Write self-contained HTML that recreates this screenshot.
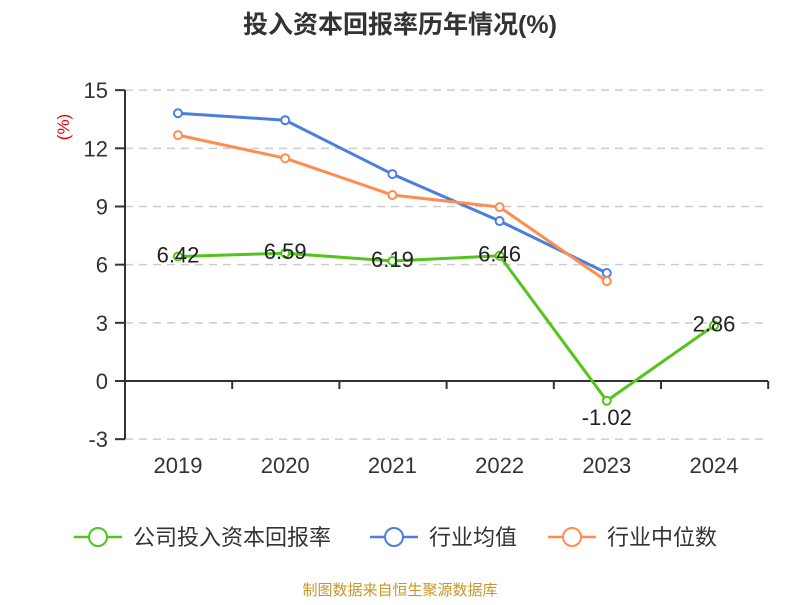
<!DOCTYPE html>
<html><head><meta charset="utf-8"><style>
body{margin:0;background:#fff;width:800px;height:600px;overflow:hidden}
text{font-family:"Liberation Sans","Noto Sans CJK SC",sans-serif}
</style></head><body>
<svg id="c" width="800" height="600" xmlns="http://www.w3.org/2000/svg">
<text x="400" y="33" text-anchor="middle" font-size="25" font-weight="bold" fill="#333">投入资本回报率历年情况(%)</text>
<text x="0" y="0" transform="translate(69,127) rotate(-90)" text-anchor="middle" font-size="17" fill="#e00">(%)</text>
<g id="grid"></g><g id="series"></g>
<g>
<g><line x1="74" y1="537" x2="122" y2="537" stroke="#52c41a" stroke-width="2.5"/><circle cx="98" cy="537" r="9" fill="#fff" stroke="#52c41a" stroke-width="2"/><text x="133" y="545" font-size="22" fill="#333">公司投入资本回报率</text></g>
<g><line x1="370" y1="537" x2="418" y2="537" stroke="#4a7fe0" stroke-width="2.5"/><circle cx="394" cy="537" r="9" fill="#fff" stroke="#4a7fe0" stroke-width="2"/><text x="429" y="545" font-size="22" fill="#333">行业均值</text></g>
<g><line x1="548" y1="537" x2="596" y2="537" stroke="#ff8c50" stroke-width="2.5"/><circle cx="572" cy="537" r="9" fill="#fff" stroke="#ff8c50" stroke-width="2"/><text x="607" y="545" font-size="22" fill="#333">行业中位数</text></g>
</g>
<text x="400" y="595" text-anchor="middle" font-size="15" fill="#c8952a">制图数据来自恒生聚源数据库</text>
</svg>
<script>
const years=["2019","2020","2021","2022","2023","2024"];
const company=[6.42,6.59,6.19,6.46,-1.02,2.86];
const industryAvg=[13.81,13.45,10.67,8.25,5.57];
const industryMedian=[12.68,11.49,9.59,8.97,5.15];
const yTicks=[-3,0,3,6,9,12,15];
const NS="http://www.w3.org/2000/svg";
const xs=i=>178+i*107.2;
const ys=v=>381-v*19.39;
const grid=document.getElementById('grid'),ser=document.getElementById('series');
function mk(p,tag,a){const e=document.createElementNS(NS,tag);for(const k in a)e.setAttribute(k,a[k]);p.appendChild(e);return e;}
yTicks.forEach(t=>{
 if(t!==0){const g=mk(grid,'line',{x1:125,x2:768,y1:ys(t),y2:ys(t),stroke:'#ccc','stroke-dasharray':'8,6','stroke-width':1.5});
 
 }
 mk(grid,'line',{x1:115,x2:125,y1:ys(t),y2:ys(t),stroke:'#333','stroke-width':2});
 const tx=mk(grid,'text',{x:108,y:ys(t)+8,'text-anchor':'end','font-size':22,fill:'#333'});tx.textContent=t;
 
 
});
mk(grid,'line',{x1:125,x2:125,y1:ys(15),y2:ys(-3),stroke:'#333','stroke-width':2});
mk(grid,'line',{x1:125,x2:768,y1:ys(0),y2:ys(0),stroke:'#333','stroke-width':2});
years.forEach((y,i)=>{
 mk(grid,'line',{x1:125+107.2*(i+1),x2:125+107.2*(i+1),y1:ys(0),y2:ys(0)+8,stroke:'#333','stroke-width':2});
 const tx=mk(grid,'text',{x:xs(i),y:473,'text-anchor':'middle','font-size':22,fill:'#333'});tx.textContent=y;
 
 
});
mk(grid,'line',{x1:125,x2:125,y1:ys(0),y2:ys(0)+8,stroke:'#333','stroke-width':2});
function line(data,color,name,labels){
 const g=mk(ser,'g',{});
 
 
 mk(g,'polyline',{points:data.map((v,i)=>xs(i)+','+ys(v)).join(' '),fill:'none',stroke:color,'stroke-width':3});
 data.forEach((v,i)=>{
  const c=mk(g,'circle',{cx:xs(i),cy:ys(v),r:4,fill:'#fff',stroke:color,'stroke-width':2});
  
  
  if(labels){const t=mk(g,'text',{x:xs(i),y:ys(v)+(v<0?24:6),'text-anchor':'middle','font-size':22,fill:'#222'});t.textContent=v.toFixed(2);
  
  }
 });
}
line(industryAvg,'#4a7fe0','industry-avg-line',false);
line(industryMedian,'#ff8c50','industry-median-line',false);
line(company,'#52c41a','company-line',true);
</script>
</body></html>
